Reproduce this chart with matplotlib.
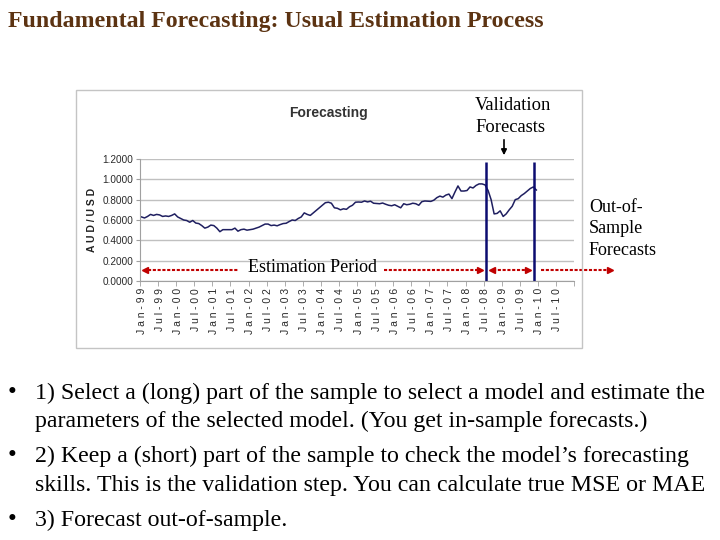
import numpy as np
import matplotlib.pyplot as plt
from matplotlib.patches import Rectangle

# monthly AUD/USD, Jan-99 onwards
audusd = [0.630, 0.620, 0.635, 0.655, 0.645, 0.655, 0.650, 0.635, 0.640, 0.635,
          0.645, 0.660, 0.630, 0.615, 0.600, 0.595, 0.578, 0.595, 0.570, 0.565,
          0.545, 0.520, 0.530, 0.550, 0.545, 0.520, 0.485, 0.505, 0.505, 0.505,
          0.505, 0.520, 0.490, 0.505, 0.510, 0.500, 0.505, 0.510, 0.520, 0.530,
          0.545, 0.560, 0.560, 0.545, 0.550, 0.543, 0.555, 0.565, 0.568, 0.585,
          0.600, 0.595, 0.615, 0.630, 0.670, 0.655, 0.645, 0.670, 0.695, 0.720,
          0.745, 0.770, 0.775, 0.765, 0.720, 0.715, 0.700, 0.710, 0.705, 0.730,
          0.745, 0.775, 0.777, 0.775, 0.787, 0.778, 0.785, 0.765, 0.762, 0.760,
          0.767, 0.755, 0.745, 0.740, 0.750, 0.735, 0.720, 0.760, 0.750, 0.755,
          0.765, 0.760, 0.745, 0.780, 0.787, 0.785, 0.783, 0.795, 0.820, 0.835,
          0.825, 0.845, 0.855, 0.810, 0.875, 0.935, 0.885, 0.885, 0.890, 0.925,
          0.915, 0.940, 0.955, 0.955, 0.945, 0.890, 0.800, 0.660, 0.665, 0.690,
          0.635, 0.660, 0.700, 0.735, 0.800, 0.810, 0.840, 0.860, 0.885, 0.910,
          0.925, 0.895]

n_months = 144  # Jan-99 .. Dec-10
yrs = ['99', '00', '01', '02', '03', '04', '05', '06', '07', '08', '09', '10']
tick_labels = []
for y in yrs:
    tick_labels += ['Jan-' + y, 'Jul-' + y]

val_start = 114.4   # Jul-08
val_end = 130.2     # Nov-09

bullets = [
    ('\u2022', '1) Select a (long) part of the sample to select a model and estimate the'),
    ('', 'parameters of the selected model. (You get in-sample forecasts.)'),
    ('\u2022', '2) Keep a (short) part of the sample to check the model\u2019s forecasting'),
    ('', 'skills. This is the validation step. You can calculate true MSE or MAE'),
    ('\u2022', '3) Forecast out-of-sample.'),
]
bullet_base = [399, 427.5, 462, 490.5, 526]

W, H = 720, 540
def fx(x):
    return x / W
def fy(y):
    return 1 - y / H

fig = plt.figure(figsize=(7.2, 5.4), dpi=100)
serif = 'Liberation Serif'

fig.text(fx(8), fy(27), 'Fundamental Forecasting: Usual Estimation Process',
         family=serif, weight='bold', fontsize=17.2, color='#5c3312', va='baseline')

# grey frame of the pasted excel chart
fig.add_artist(Rectangle((fx(76), fy(348)), (582 - 76) / W, (348 - 90) / H,
                         transform=fig.transFigure, fill=False, ec='#c4c4c4', lw=1))

ax = fig.add_axes([fx(140), fy(281), 434 / W, 122 / H])
x = np.arange(len(audusd))
ax.plot(x, audusd, color='#1f1f60', lw=1.1)
ax.set_xlim(-0.5, n_months - 0.5)
ax.set_ylim(0, 1.2)
ax.set_yticks(np.arange(0, 1.21, 0.2))
ax.set_yticklabels(['%.4f' % v for v in np.arange(0, 1.21, 0.2)],
                   family='Liberation Sans', fontsize=7.2, color='#2a2a2a')
ax.yaxis.grid(True, color='#c0c0c0', lw=1)
ax.set_axisbelow(True)
ax.set_xticks(np.arange(0, n_months, 6))
ax.set_xticklabels([' '.join(t) for t in tick_labels], rotation=90,
                   family='Liberation Sans', fontsize=7.5, color='#2a2a2a')
ax.set_xticks(np.arange(-0.5, n_months, 6), minor=True)
ax.tick_params(axis='x', which='major', length=0, pad=5)
ax.tick_params(axis='x', which='minor', length=3.5, color='#a0a0a0')
ax.tick_params(axis='y', length=3, color='#a0a0a0', pad=2)
for s in ['top', 'right']:
    ax.spines[s].set_visible(False)
for s in ['left', 'bottom']:
    ax.spines[s].set_color('#a0a0a0')
ax.set_ylabel('A U D / U S D', family='Liberation Sans', weight='bold',
              fontsize=7.5, color='#222222', labelpad=4)
fig.text(fx(329), fy(113), 'Forecasting', family='Liberation Sans', weight='bold',
         fontsize=10, color='#333333', ha='center', va='center')

# validation window
ax.vlines([val_start, val_end], 0, 1.17, color='#0c0c70', lw=1.8, clip_on=False)

# red dashed period arrows
red = '#c00000'
ya = 0.11
dash = (0, (1.5, 0.8))
segs = [(2, 32), (80.6, 111.5), (116.5, 128), (132.7, 155)]
for a, b in segs:
    ax.plot([a, b], [ya, ya], color=red, lw=1.5, ls=dash, clip_on=False)
for xm, mk in [(1.3, '<'), (112.3, '>'), (116.3, '<'), (128.3, '>'), (155.5, '>')]:
    ax.plot(xm, ya, marker=mk, color=red, ms=5, clip_on=False)

fig.text(fx(312), fy(272.5), 'Estimation Period', family=serif, fontsize=13,
         ha='center', va='baseline')
fig.text(fx(475), fy(110), 'Validation', family=serif, fontsize=13.3, va='baseline')
fig.text(fx(475), fy(132), 'Forecasts', family=serif, fontsize=13.3, va='baseline')
ax.annotate('', xy=(fx(504), fy(158)), xytext=(fx(504), fy(137)),
            xycoords='figure fraction', textcoords='figure fraction',
            arrowprops=dict(arrowstyle='-|>', color='black', lw=1.2, mutation_scale=8))
for i, t in enumerate(['Out-of-', 'Sample', 'Forecasts']):
    fig.text(fx(589), fy(212 + 21.5 * i), t, family=serif, fontsize=13, va='baseline')

for (b, t), yb in zip(bullets, bullet_base):
    if b:
        fig.text(fx(8), fy(yb), b, family=serif, fontsize=18, va='baseline')
    fig.text(fx(35), fy(yb), t, family=serif, fontsize=17.2, va='baseline')

fig.savefig('out.png', dpi=100)
